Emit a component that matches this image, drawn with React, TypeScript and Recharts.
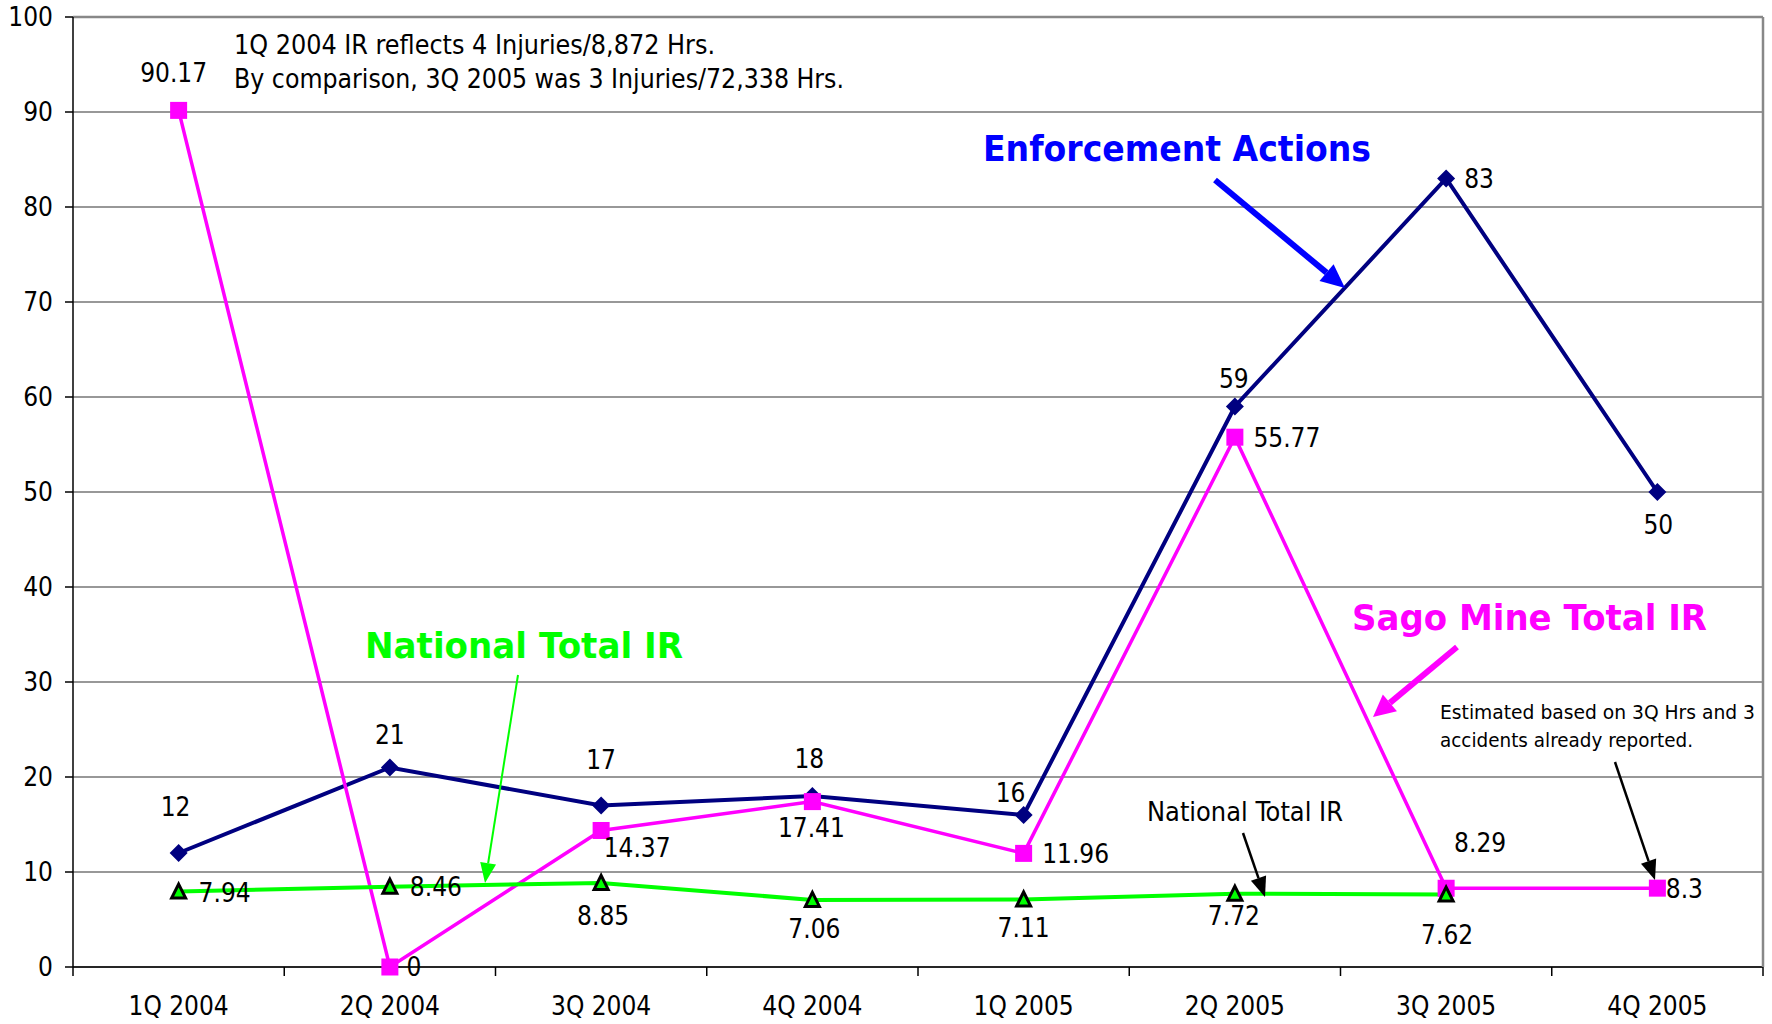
import React from 'react';
import {
  LineChart,
  Line,
  XAxis,
  YAxis,
  CartesianGrid,
  ReferenceLine,
} from 'recharts';

const categories = ['1Q 2004', '2Q 2004', '3Q 2004', '4Q 2004', '1Q 2005', '2Q 2005', '3Q 2005', '4Q 2005'];
const enforcementActions = [12, 21, 17, 18, 16, 59, 83, 50];
const sagoMineIR = [90.17, 0, 14.37, 17.41, 11.96, 55.77, 8.29, 8.3];
const nationalIR: (number | null)[] = [7.94, 8.46, 8.85, 7.06, 7.11, 7.72, 7.62, null];
const yTicks = [0, 10, 20, 30, 40, 50, 60, 70, 80, 90, 100];

// label offsets (centre of text relative to the point)
const enfLabelPos = [[-3, -46], [0, -33], [0, -46], [-3, -37], [-13, -22], [-1, -28], [33, 0], [1, 33]];
const sagoLabelPos = [[-5, -38], [24, 0], [36, 17], [-1, 26], [52, 0], [52, 0], [34, -46], [27, 0]];
const natLabelPos = [[46, 1], [46, 0], [2, 33], [2, 29], [0, 28], [-1, 22], [1, 40], [0, 0]];

const W = 1772;
const H = 1024;
const PLOT_LEFT = 73;
const PLOT_RIGHT = 9;
const PLOT_TOP = 17;
const X_AXIS_H = 57;
const plotWidth = W - PLOT_LEFT - PLOT_RIGHT;
const halfBand = plotWidth / categories.length / 2;

const FONT = "'DejaVu Sans Condensed', 'DejaVu Sans', sans-serif";
const FS = 26;

const NAVY = '#000080';
const MAGENTA = '#ff00ff';
const GREEN = '#00ff00';

const chartData = categories.map((q, i) => ({
  q,
  enf: enforcementActions[i],
  sago: sagoMineIR[i],
  nat: nationalIR[i],
}));

const makeLabel = (pos: number[][], values: (number | null)[]) => (props: any) => {
  const { x, y, value } = props;
  if (value == null || x == null || y == null) return null;
  let idx = props.index;
  if (idx == null) idx = values.indexOf(value);
  const [dx, dy] = pos[idx] || [0, -20];
  return (
    <text
      key={`lbl-${idx}`}
      x={x + dx}
      y={y + dy + FS * 0.36}
      textAnchor="middle"
      fontFamily={FONT}
      fontSize={FS}
      fill="#000"
    >
      {value}
    </text>
  );
};

const diamondDot = (props: any) => {
  const { cx, cy, index } = props;
  if (cx == null || cy == null) return <g key={`dd-${index}`} />;
  const r = 9;
  return (
    <path
      key={`dd-${index}`}
      d={`M${cx},${cy - r} L${cx + r},${cy} L${cx},${cy + r} L${cx - r},${cy} Z`}
      fill={NAVY}
    />
  );
};

const squareDot = (props: any) => {
  const { cx, cy, index } = props;
  if (cx == null || cy == null) return <g key={`sd-${index}`} />;
  const s = 17;
  return <rect key={`sd-${index}`} x={cx - s / 2} y={cy - s / 2} width={s} height={s} fill={MAGENTA} />;
};

const triangleDot = (props: any) => {
  const { cx, cy, index, value } = props;
  if (cx == null || cy == null || value == null) return <g key={`td-${index}`} />;
  return (
    <polygon
      key={`td-${index}`}
      points={`${cx},${cy - 7.5} ${cx + 7},${cy + 6.5} ${cx - 7},${cy + 6.5}`}
      fill={GREEN}
      stroke="#000"
      strokeWidth={3}
      strokeLinejoin="miter"
    />
  );
};

const XTick = (props: any) => {
  const { x, y, payload, index } = props;
  const last = index === categories.length - 1;
  return (
    <g>
      <line x1={x - halfBand} y1={y} x2={x - halfBand} y2={y + 9} stroke="#000" strokeWidth={1.5} />
      {last && <line x1={x + halfBand} y1={y} x2={x + halfBand} y2={y + 9} stroke="#000" strokeWidth={1.5} />}
      <text x={x} y={y + 39 + FS * 0.36} textAnchor="middle" fontFamily={FONT} fontSize={FS} fill="#000">
        {payload.value}
      </text>
    </g>
  );
};

const Arrow = ({ x1, y1, x2, y2, color, width, head, headW }: any) => {
  const ang = Math.atan2(y2 - y1, x2 - x1);
  const bx = x2 - head * Math.cos(ang);
  const by = y2 - head * Math.sin(ang);
  const px = Math.cos(ang + Math.PI / 2) * headW / 2;
  const py = Math.sin(ang + Math.PI / 2) * headW / 2;
  return (
    <g>
      <line x1={x1} y1={y1} x2={bx} y2={by} stroke={color} strokeWidth={width} />
      <polygon points={`${x2},${y2} ${bx + px},${by + py} ${bx - px},${by - py}`} fill={color} />
    </g>
  );
};

const Annotations = () => (
  <svg
    width={W}
    height={H}
    style={{ position: 'absolute', left: 0, top: 0, pointerEvents: 'none' }}
  >
    <g fontFamily={FONT} fill="#000">
      <text x={234} y={54} fontSize={FS} textLength={481} lengthAdjust="spacingAndGlyphs">
        1Q 2004 IR reflects 4 Injuries/8,872 Hrs.
      </text>
      <text x={234} y={88} fontSize={FS} textLength={610} lengthAdjust="spacingAndGlyphs">
        By comparison, 3Q 2005 was 3 Injuries/72,338 Hrs.
      </text>
      <text x={1147} y={821} fontSize={FS} textLength={196} lengthAdjust="spacingAndGlyphs">
        National Total IR
      </text>
      <text x={1440} y={719} fontSize={20} textLength={315} lengthAdjust="spacingAndGlyphs">
        Estimated based on 3Q Hrs and 3
      </text>
      <text x={1440} y={747} fontSize={20} textLength={253} lengthAdjust="spacingAndGlyphs">
        accidents already reported.
      </text>
    </g>
    <g fontFamily="'DejaVu Sans', sans-serif" fontWeight="bold" fontSize={36}>
      <text x={983} y={161} fill="#0000ff" textLength={388} lengthAdjust="spacingAndGlyphs">
        Enforcement Actions
      </text>
      <text x={365} y={658} fill={GREEN} textLength={318} lengthAdjust="spacingAndGlyphs">
        National Total IR
      </text>
      <text x={1352} y={630} fill={MAGENTA} textLength={355} lengthAdjust="spacingAndGlyphs">
        Sago Mine Total IR
      </text>
    </g>
    <Arrow x1={1215} y1={180} x2={1345} y2={288} color="#0000ff" width={6} head={24} headW={22} />
    <Arrow x1={518} y1={675} x2={485} y2={883} color={GREEN} width={2} head={20} headW={16} />
    <Arrow x1={1457} y1={647} x2={1373} y2={717} color={MAGENTA} width={6} head={22} headW={22} />
    <Arrow x1={1243} y1={833} x2={1265} y2={897} color="#000" width={2.5} head={20} headW={16} />
    <Arrow x1={1615} y1={762} x2={1655} y2={880} color="#000" width={2.5} head={20} headW={16} />
  </svg>
);

export default function App() {
  return (
    <div style={{ position: 'absolute', left: 0, top: 0, width: W, height: H, background: '#fff' }}>
      <LineChart
        width={W}
        height={H}
        data={chartData}
        margin={{ top: PLOT_TOP, right: 0, bottom: 0, left: 0 }}
      >
        <CartesianGrid yAxisId="left" vertical={false} stroke="#333" strokeWidth={1.2} />
        <XAxis
          dataKey="q"
          height={X_AXIS_H}
          interval={0}
          tickLine={false}
          tickSize={0}
          tickMargin={0}
          padding={{ left: halfBand, right: halfBand }}
          axisLine={{ stroke: '#000', strokeWidth: 1.5 }}
          tick={<XTick />}
        />
        <YAxis
          yAxisId="left"
          domain={[0, 100]}
          ticks={yTicks}
          interval={0}
          width={PLOT_LEFT}
          tickSize={8}
          tickMargin={12}
          axisLine={{ stroke: '#000', strokeWidth: 1.5 }}
          tickLine={{ stroke: '#000', strokeWidth: 1.5 }}
          tick={{ fill: '#000', fontSize: FS, fontFamily: FONT }}
        />
        <YAxis
          yAxisId="right"
          orientation="right"
          domain={[0, 100]}
          width={PLOT_RIGHT}
          tick={false}
          tickLine={false}
          axisLine={{ stroke: '#888', strokeWidth: 2.5 }}
        />
        <ReferenceLine yAxisId="left" y={100} stroke="#888" strokeWidth={2.5} />
        <Line
          yAxisId="left"
          dataKey="enf"
          name="Enforcement Actions"
          stroke={NAVY}
          strokeWidth={4}
          dot={diamondDot}
          activeDot={false}
          label={makeLabel(enfLabelPos, enforcementActions)}
          isAnimationActive={false}
        />
        <Line
          yAxisId="left"
          dataKey="sago"
          name="Sago Mine Total IR"
          stroke={MAGENTA}
          strokeWidth={3.5}
          dot={squareDot}
          activeDot={false}
          label={makeLabel(sagoLabelPos, sagoMineIR)}
          isAnimationActive={false}
        />
        <Line
          yAxisId="left"
          dataKey="nat"
          name="National Total IR"
          stroke={GREEN}
          strokeWidth={4}
          dot={triangleDot}
          activeDot={false}
          label={makeLabel(natLabelPos, nationalIR)}
          isAnimationActive={false}
        />
      </LineChart>
      <Annotations />
    </div>
  );
}
